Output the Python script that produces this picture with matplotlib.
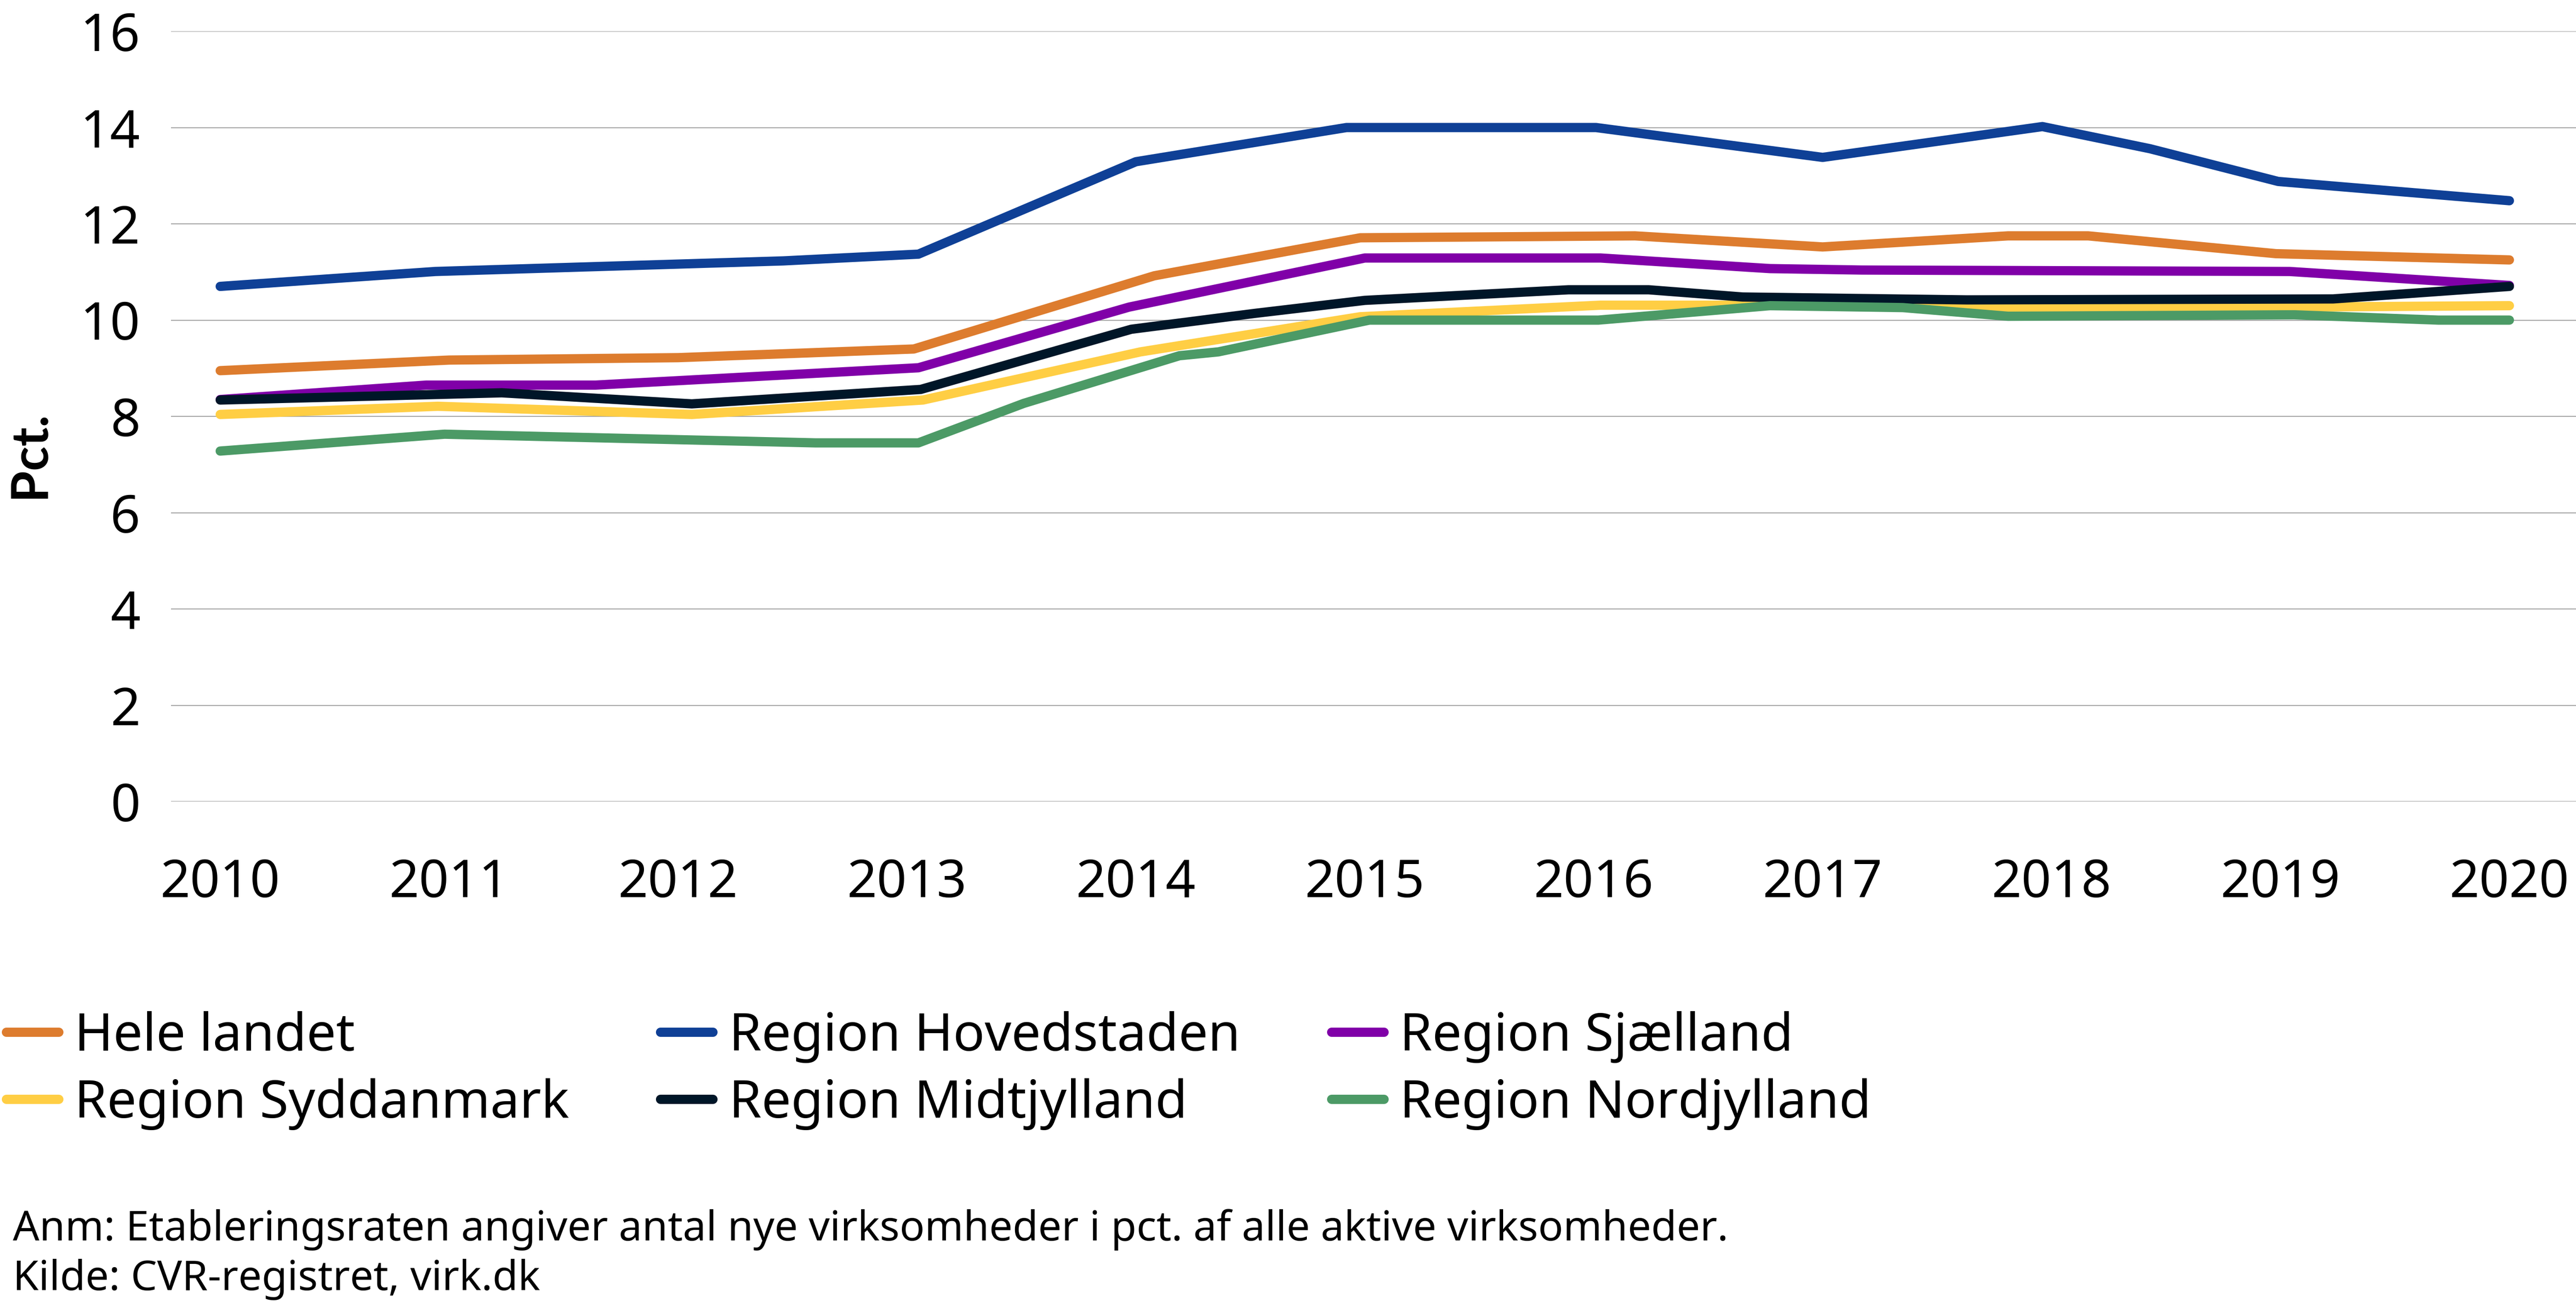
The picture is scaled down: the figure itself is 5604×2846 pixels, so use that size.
import matplotlib
matplotlib.use("Agg")
import matplotlib.pyplot as plt
from matplotlib.lines import Line2D

plt.rcParams['font.family'] = ['Noto Sans', 'DejaVu Sans']

# ---- data (kink points: fractional year, pct.) ----
hele_x = [2010.0, 2011.0, 2012.0, 2013.03, 2014.08, 2014.98, 2016.18, 2017.0, 2017.81, 2018.16, 2018.98, 2020.0]
hele_y = [8.95, 9.17, 9.22, 9.40, 10.92, 11.71, 11.75, 11.52, 11.75, 11.75, 11.38, 11.25]

hoved_x = [2010.0, 2010.94, 2012.46, 2013.05, 2014.0, 2014.92, 2016.01, 2017.0, 2017.96, 2018.43, 2018.99, 2020.0]
hoved_y = [10.70, 11.01, 11.23, 11.37, 13.29, 14.0, 14.0, 13.38, 14.02, 13.56, 12.88, 12.48]

sjael_x = [2010.0, 2010.9, 2011.64, 2013.05, 2013.97, 2015.0, 2016.03, 2016.77, 2017.17, 2019.04, 2020.0]
sjael_y = [8.35, 8.65, 8.65, 9.01, 10.27, 11.29, 11.29, 11.07, 11.04, 11.01, 10.72]

sydd_x = [2010.0, 2010.95, 2012.06, 2013.07, 2014.02, 2014.98, 2016.03, 2016.75, 2017.96, 2018.1, 2020.0]
sydd_y = [8.04, 8.21, 8.04, 8.34, 9.34, 10.07, 10.31, 10.31, 10.26, 10.24, 10.30]

midt_x = [2010.0, 2011.23, 2012.06, 2013.06, 2013.98, 2014.52, 2015.0, 2015.89, 2016.24, 2016.65, 2017.63, 2019.23, 2020.0]
midt_y = [8.34, 8.49, 8.26, 8.56, 9.81, 10.14, 10.41, 10.63, 10.63, 10.48, 10.42, 10.44, 10.70]

nord_x = [2010.0, 2010.98, 2012.6, 2013.05, 2013.51, 2014.19, 2014.36, 2015.02, 2016.02, 2016.77, 2017.35, 2017.81, 2019.06, 2019.69, 2020.0]
nord_y = [7.28, 7.63, 7.45, 7.45, 8.27, 9.26, 9.34, 10.0, 10.0, 10.30, 10.26, 10.08, 10.11, 10.0, 10.0]

labels = ["Hele landet", "Region Hovedstaden", "Region Sjælland",
          "Region Syddanmark", "Region Midtjylland", "Region Nordjylland"]
colors = ["#DD7C2E", "#0F4096", "#8000A8", "#FFCE44", "#001628", "#4C9A66"]
year_ticks = list(range(2010, 2021))
y_ticks = list(range(0, 17, 2))

series = [(hele_x, hele_y), (hoved_x, hoved_y), (sjael_x, sjael_y),
          (sydd_x, sydd_y), (midt_x, midt_y), (nord_x, nord_y)]

W, H = 5604, 2846
fig = plt.figure(figsize=(W / 100, H / 100), dpi=100)
ax = fig.add_axes([372 / W, 1 - 1744 / H, (W - 372) / W, (1744 - 68) / H])

for (xs, ys), lab, col in zip(series, labels, colors):
    ax.plot(xs, ys, color=col, lw=14.5, solid_capstyle='round',
            solid_joinstyle='round', label=lab, zorder=3)

ax.set_xlim(2009.785, 2020.291)
ax.set_ylim(0, 16)
ax.set_xticks(year_ticks)
ax.set_xticklabels([str(y) for y in year_ticks])
ax.set_yticks(y_ticks)
ax.set_yticklabels([str(v) for v in y_ticks])
ax.yaxis.grid(True, color="#A6A6A6", lw=1.6, zorder=0)
ax.xaxis.grid(False)
for s in ax.spines.values():
    s.set_visible(False)
ax.tick_params(axis='both', length=0, labelsize=82)
ax.tick_params(axis='y', pad=48)
ax.tick_params(axis='x', pad=88)

fig.text(64 / W, 1 - 989 / H, "Pct.", rotation=90, fontsize=80,
         family=['Lato', 'DejaVu Sans'], fontweight='bold',
         ha='center', va='center')

# legend: row-major order -> matplotlib column-major
order = [0, 3, 1, 4, 2, 5]
leg_handles = [Line2D([0], [0], color=colors[i], lw=14.5, solid_capstyle='round') for i in order]
fig.legend(leg_handles, [labels[i] for i in order], loc='upper left',
           bbox_to_anchor=(14 / W, 1 - 2200 / H), ncol=3, frameon=False,
           fontsize=82, handlelength=1.0, handletextpad=0.3,
           columnspacing=1.75, labelspacing=0.29, borderpad=0, borderaxespad=0)

fig.text(28 / W, 1 - 2676 / H,
         "Anm: Etableringsraten angiver antal nye virksomheder i pct. af alle aktive virksomheder.",
         fontsize=65, ha='left', va='center')
fig.text(28 / W, 1 - 2784 / H, "Kilde: CVR-registret, virk.dk",
         fontsize=65, ha='left', va='center')

fig.savefig("out.png", dpi=100)
